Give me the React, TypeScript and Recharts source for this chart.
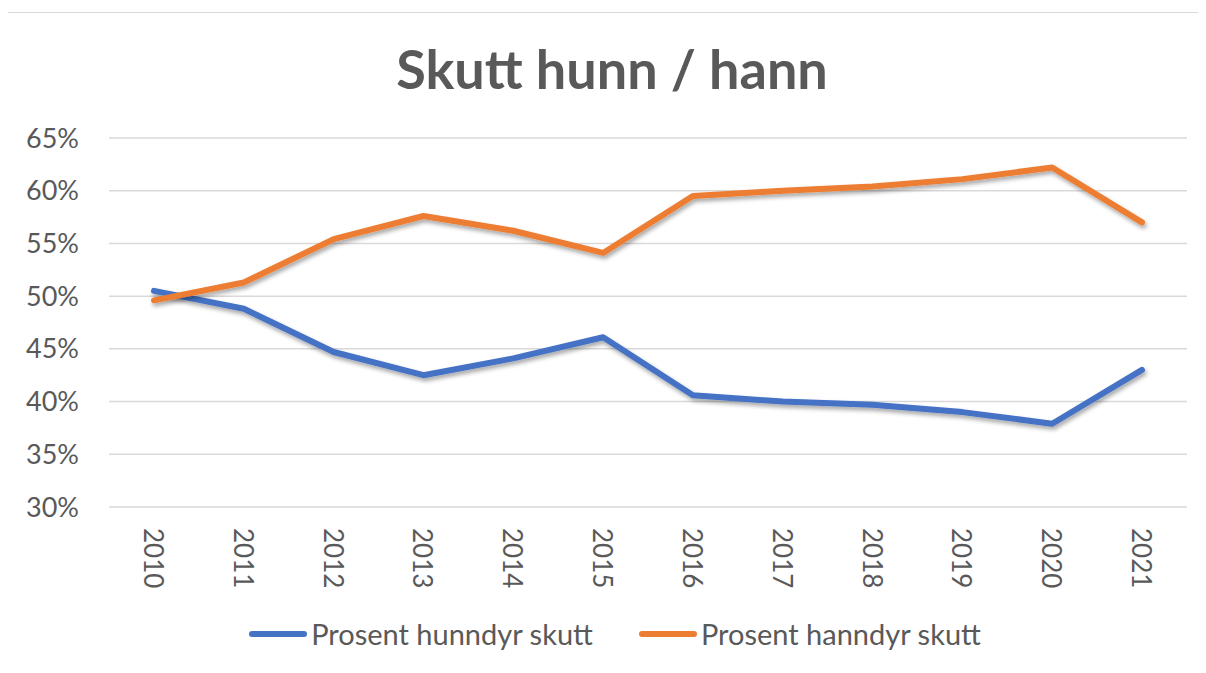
import { LineChart, Line, XAxis, YAxis, CartesianGrid, Legend } from 'recharts';

const years = ['2010', '2011', '2012', '2013', '2014', '2015', '2016', '2017', '2018', '2019', '2020', '2021'];
const hunndyr = [50.5, 48.8, 44.7, 42.5, 44.1, 46.1, 40.6, 40.0, 39.7, 39.0, 37.9, 43.0];
const hanndyr = [49.6, 51.3, 55.4, 57.6, 56.2, 54.1, 59.5, 60.0, 60.4, 61.1, 62.2, 57.0];
const yTicks = [30, 35, 40, 45, 50, 55, 60, 65];

const seriesInfo = [
  { key: 'hunn', name: 'Prosent hunndyr skutt', color: '#4472C4' },
  { key: 'hann', name: 'Prosent hanndyr skutt', color: '#ED7D31' },
];

const data = years.map((year, i) => ({ year, hunn: hunndyr[i], hann: hanndyr[i] }));

const font = 'Lato, "Open Sans", sans-serif';
const textColor = '#595959';

const YearTick = (props: any) => {
  const { x, y, payload } = props;
  return (
    <g transform={`translate(${x},${y + 21})`}>
      <text
        x={0}
        y={0}
        transform="rotate(90)"
        textAnchor="start"
        dominantBaseline="central"
        fill={textColor}
        fontSize={26}
        fontFamily={font}
      >
        {payload.value}
      </text>
    </g>
  );
};

const LegendContent = () => (
  <div style={{ display: 'flex', justifyContent: 'center', gap: 46, fontFamily: font, fontSize: 29, color: textColor }}>
    {seriesInfo.map((s) => (
      <div key={s.key} style={{ display: 'flex', alignItems: 'center' }}>
        <span style={{ display: 'inline-block', width: 58, height: 6, borderRadius: 3, background: s.color, marginRight: 4 }} />
        <span>{s.name}</span>
      </div>
    ))}
  </div>
);

export default function App() {
  return (
    <div style={{ margin: -8, position: 'relative', width: 1206, height: 673, overflow: 'hidden', background: '#fff' }}>
      <div
        style={{
          position: 'absolute',
          left: 3,
          top: 12,
          width: 1300,
          height: 800,
          border: '1px solid #D9D9D9',
        }}
      />
      <div
        style={{
          position: 'absolute',
          left: 0,
          top: 36,
          width: 1224,
          textAlign: 'center',
          fontFamily: font,
          fontWeight: 'bold',
          fontSize: 54,
          color: textColor,
        }}
      >
        Skutt hunn / hann
      </div>
      <div style={{ position: 'absolute', left: 0, top: 0 }}>
        <LineChart width={1206} height={673} data={data} margin={{ top: 138, right: 19, left: 29, bottom: 0 }}>
          <defs>
            <filter id="lineShadow" x="-5%" y="-20%" width="110%" height="140%">
              <feDropShadow dx="1.5" dy="3" stdDeviation="2" floodColor="#000" floodOpacity="0.35" />
            </filter>
          </defs>
          <CartesianGrid vertical={false} stroke="#D9D9D9" strokeWidth={1.5} />
          <XAxis
            dataKey="year"
            axisLine={false}
            tickLine={false}
            tickSize={0}
            tickMargin={0}
            interval={0}
            height={131}
            padding={{ left: 45, right: 45 }}
            tick={<YearTick />}
          />
          <YAxis
            width={80}
            domain={[30, 65]}
            ticks={yTicks}
            axisLine={false}
            tickLine={false}
            tickSize={0}
            tickMargin={30}
            tickFormatter={(v) => `${v}%`}
            tick={{ fill: textColor, fontSize: 27, fontFamily: font }}
          />
          <Legend
            verticalAlign="bottom"
            content={<LegendContent />}
            wrapperStyle={{ top: 616, left: 0, width: 1230 }}
          />
          {seriesInfo.map((s) => (
            <Line
              key={s.key}
              type="linear"
              dataKey={s.key}
              name={s.name}
              stroke={s.color}
              strokeWidth={6}
              strokeLinecap="round"
              strokeLinejoin="round"
              dot={false}
              activeDot={false}
              filter="url(#lineShadow)"
              isAnimationActive={false}
            />
          ))}
        </LineChart>
      </div>
    </div>
  );
}
